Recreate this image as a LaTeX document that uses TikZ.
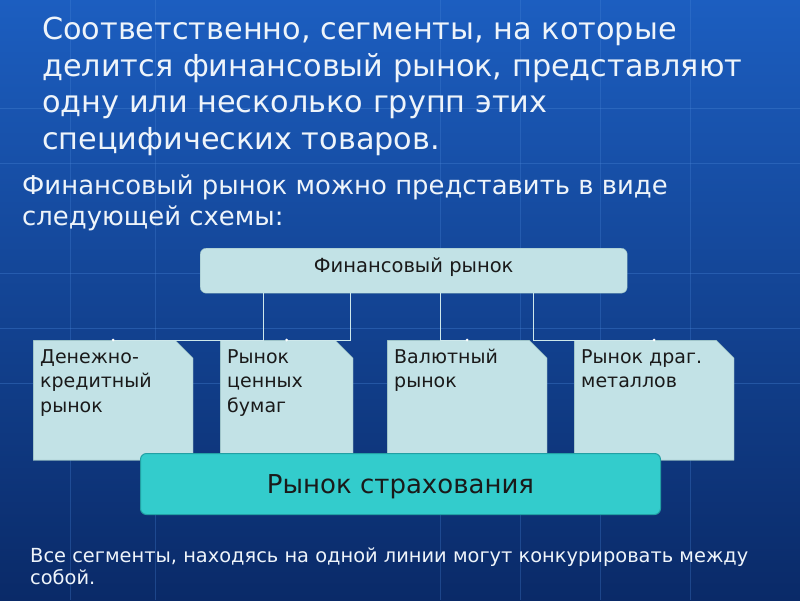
\documentclass[tikz,border=0pt]{standalone}
\usepackage{fontspec}
\setmainfont{DejaVu Sans}
\definecolor{bgtop}{HTML}{1C5EC0}
\definecolor{bgbot}{HTML}{0A2A68}
\definecolor{gridblue}{HTML}{4A86D8}
\definecolor{cardfill}{HTML}{C2E2E6}
\definecolor{cardedge}{HTML}{8FB6BC}
\definecolor{insfill}{HTML}{33CCCC}
\definecolor{insedge}{HTML}{22A0A4}
\definecolor{txtdark}{HTML}{1A1A1A}
\definecolor{txtlight}{HTML}{EEF4FA}

\tikzset{
  card/.style={minimum width=#1, minimum height=120, inner sep=0, anchor=north west,
    path picture={
      \fill[cardfill] (path picture bounding box.north west)
        -- ([xshift=-18]path picture bounding box.north east)
        -- ([yshift=-18]path picture bounding box.north east)
        -- (path picture bounding box.south east)
        -- (path picture bounding box.south west) -- cycle;
      \draw[cardedge, line width=0.6] (path picture bounding box.north west)
        -- ([xshift=-18]path picture bounding box.north east)
        -- ([yshift=-18]path picture bounding box.north east)
        -- (path picture bounding box.south east)
        -- (path picture bounding box.south west) -- cycle;}},
  cardtext/.style={anchor=north west, align=left, inner sep=0, text=txtdark,
    font=\fontsize{19}{24.5}\selectfont},
  lighttext/.style={anchor=north west, align=left, inner sep=0, text=txtlight},
  link/.style={draw=cardfill!80!white, line width=1}
}

\begin{document}
\begin{tikzpicture}[x=1pt, y=-1pt]
      \useasboundingbox (0,0) rectangle (800,600);
      \shade[top color=bgtop, bottom color=bgbot] (0,0) rectangle (800,600);

      % faint globe grid
      \foreach \y in {108,163,273,328,383}
          \draw[gridblue, opacity=0.35, line width=0.6] (0,\y) -- (800,\y);
      \foreach \x in {70,155,440,520,600,690}
          \draw[gridblue, opacity=0.3, line width=0.6] (\x,0) -- (\x,600);

      % text
      \node[lighttext, font=\fontsize{30.3}{36.5}\selectfont] (title) at (42,17)
            {Соответственно, сегменты, на которые\\делится финансовый рынок, представляют\\одну или несколько групп этих\\специфических товаров.};
      \node[lighttext, font=\fontsize{25.9}{31}\selectfont] (intro) at (22,175)
            {Финансовый рынок можно представить в виде\\следующей схемы:};

      % top box
      \node[draw=cardedge, fill=cardfill, rounded corners=6, anchor=north west,
            minimum width=427, minimum height=45, inner sep=0] (fin) at (200,248) {};
      \node[text=txtdark, font=\fontsize{19.5}{22}\selectfont, anchor=north, inner sep=0] (fintext)
            at ([yshift=-9]fin.north) {Финансовый рынок};

      % segments
      \node[card=160] (den) at (33,340) {};
      \node[cardtext] (dentext) at ([shift={(7,9)}]den.north west) {Денежно-\\кредитный\\рынок};
      \node[card=133] (cen) at (220,340) {};
      \node[cardtext] (centext) at ([shift={(7,9)}]cen.north west) {Рынок\\ценных\\бумаг};
      \node[card=160] (val) at (387,340) {};
      \node[cardtext] (valtext) at ([shift={(7,8.5)}]val.north west) {Валютный\\рынок};
      \node[card=160] (met) at (574,340) {};
      \node[cardtext] (mettext) at ([shift={(7,9)}]met.north west) {Рынок драг.\\металлов};

      \coordinate (c1) at (263,0);
      \coordinate (c2) at (350,0);
      \coordinate (c3) at (440,0);
      \coordinate (c4) at (533,0);
      \draw[link] (fin.south -| c1) |- (den.north);
      \draw[link] (fin.south -| c2) |- (cen.north);
      \draw[link] (fin.south -| c3) |- (val.north);
      \draw[link] (fin.south -| c4) |- (met.north);
      \foreach \n in {den,cen,val,met}
          \fill[white] (\n.north) circle [radius=1.5];

      % insurance
      \node[draw=insedge, fill=insfill, rounded corners=6, anchor=north west,
            minimum width=520, minimum height=61, inner sep=0, line width=1] (ins) at (140,453) {};
      \node[text=txtdark, font=\fontsize{26}{30}\selectfont, anchor=base, inner sep=0] (instext)
            at ([yshift=-40]ins.north) {Рынок страхования};

      \node[lighttext, font=\fontsize{19.4}{21.5}\selectfont] (note) at (30,548)
            {Все сегменты, находясь на одной линии могут конкурировать между\\собой.};
\end{tikzpicture}
\end{document}
